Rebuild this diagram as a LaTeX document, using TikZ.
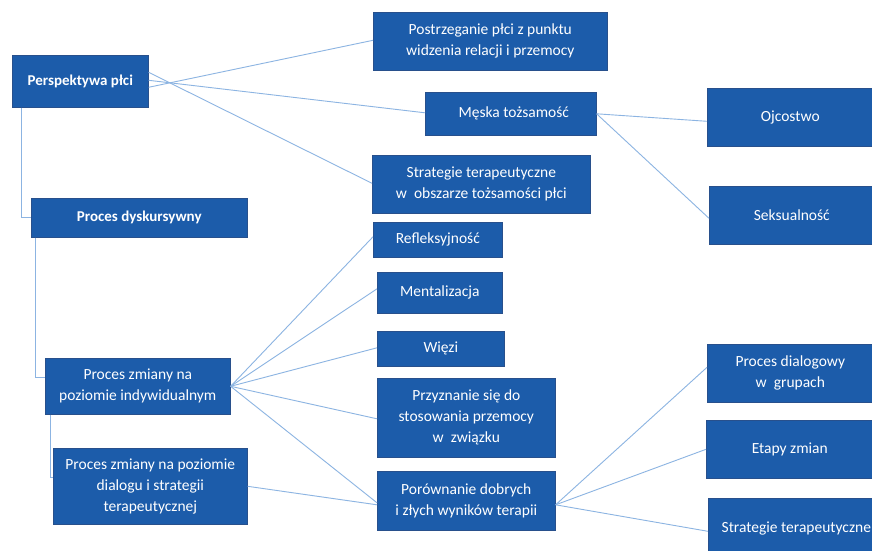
\documentclass[tikz,border=0pt]{standalone}
\usepackage{fontspec}
\setmainfont{Carlito}
\usepackage{tikz}

\definecolor{boxblue}{RGB}{28,92,170}
\definecolor{boxedge}{RGB}{40,80,140}
\definecolor{linkblue}{RGB}{140,180,226}

\tikzset{
  box/.style={draw=boxedge, line width=0.6pt, fill=boxblue, text=white,
    anchor=north west, align=center, inner sep=0pt,
    font=\fontsize{15.5}{21}\selectfont},
  boldbox/.style={box, font=\fontsize{15}{21}\selectfont\bfseries},
  link/.style={draw=linkblue, line width=0.9pt}
}

\begin{document}
\begin{tikzpicture}[x=1pt, y=-1pt]
  \clip (0,0) rectangle (872,551);
  \fill[white] (0,0) rectangle (872,551);

  % left column
  \node[boldbox, minimum width=136pt, minimum height=52pt] (persp) at (12,55) {Perspektywa płci};
  \node[boldbox, minimum width=216pt, minimum height=39pt] (disk) at (31,198) {Proces dyskursywny};
  \node[box, minimum width=185pt, minimum height=56pt] (indyw) at (45,358) {Proces zmiany na\\poziomie indywidualnym};
  \node[box, minimum width=194pt, minimum height=76pt] (dialog) at (53,448) {Proces zmiany na poziomie\\dialogu i strategii\\terapeutycznej};

  % middle column
  \node[box, minimum width=234pt, minimum height=58pt] (postrz) at (373,12) {Postrzeganie płci z punktu\\widzenia relacji i przemocy};
  \node[box, minimum width=171pt, minimum height=43pt] (meska) at (425,92) {\hspace{6pt}Męska tożsamość};
  \node[box, minimum width=218pt, minimum height=58pt] (strobsz) at (372,155) {Strategie terapeutyczne\\w\ \ obszarze tożsamości płci};
  \node[box, minimum width=129pt, minimum height=35pt] (refl) at (373,222) {Refleksyjność};
  \node[box, minimum width=125pt, minimum height=41pt] (ment) at (377,272) {Mentalizacja};
  \node[box, minimum width=127pt, minimum height=35pt] (wiezi) at (377,331) {Więzi};
  \node[box, minimum width=178pt, minimum height=79pt] (przyzn) at (377,378) {Przyznanie się do\\stosowania przemocy\\w\ \ związku};
  \node[box, minimum width=178pt, minimum height=59pt] (porown) at (377,471) {Porównanie dobrych\\i złych wyników terapii};

  % right column
  \node[box, minimum width=166pt, minimum height=58pt] (ojc) at (707,88) {Ojcostwo};
  \node[box, minimum width=165pt, minimum height=58pt] (seks) at (709,186) {Seksualność};
  \node[box, minimum width=166pt, minimum height=58pt] (dialogowy) at (707,344) {Proces dialogowy\\w\ \ grupach};
  \node[box, minimum width=167pt, minimum height=58pt] (etapy) at (706,420) {Etapy zmian};
  \node[box, minimum width=176pt, minimum height=60pt] (strat) at (708,498) {Strategie terapeutyczne};

  % elbows
  \draw[link] ([xshift=9pt]persp.south west) |- (disk.west);
  \draw[link] ([xshift=4pt]disk.south west) |- ([yshift=9pt]indyw.west);
  \draw[link] ([xshift=5pt]indyw.south west) |- ([yshift=9pt]dialog.west);

  % fans
  \draw[link] ([yshift=-6pt]persp.east) -- ([yshift=1pt]postrz.west);
  \draw[link] ([yshift=1pt]persp.east) -- ([yshift=1pt]meska.west);
  \draw[link] ([yshift=9pt]persp.east) -- ([yshift=1pt]strobsz.west);
  \draw[link] (meska.east) -- ([yshift=-4pt]ojc.west);
  \draw[link] (meska.east) -- ([yshift=-3pt]seks.west);
  \foreach \t/\dy in {refl/-3, ment/-4, wiezi/-1, przyzn/1, porown/2} {
    \draw[link] (indyw.east) -- ([yshift=-\dy pt]\t.west);
  }
  \draw[link] (dialog.east) -- ([yshift=-4pt]porown.west);
  \foreach \t/\dy in {dialogowy/6, etapy/0, strat/-3} {
    \draw[link] ([yshift=-4pt]porown.east) -- ([yshift=\dy pt]\t.west);
  }
\end{tikzpicture}
\end{document}
